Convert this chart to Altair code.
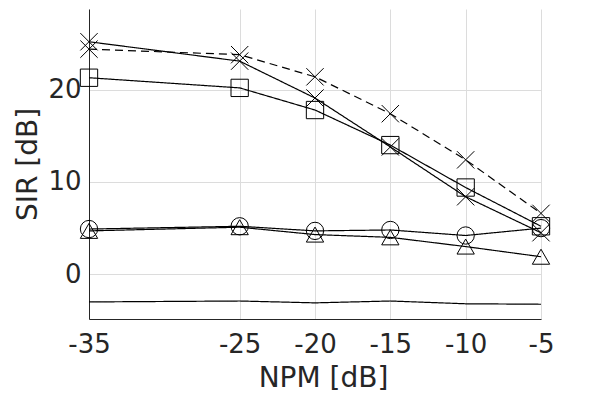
import altair as alt
import pandas as pd

npm = [-35, -25, -20, -15, -10, -5]
x_solid = [25.2, 23.1, 19.1, 13.8, 8.4, 4.5]
x_dashed = [24.4, 23.8, 21.4, 17.4, 12.4, 6.6]
squares = [21.3, 20.2, 17.8, 14.0, 9.4, 5.2]
circles = [4.9, 5.2, 4.7, 4.8, 4.2, 5.0]
triangles = [4.7, 5.1, 4.3, 4.0, 3.0, 1.9]
plain = [-3.0, -2.9, -3.1, -2.9, -3.2, -3.25]

series = {
    "xsolid": x_solid,
    "xdashed": x_dashed,
    "square": squares,
    "circle": circles,
    "triangle": triangles,
    "plain": plain,
}
rows = []
for name, vals in series.items():
    for xv, yv in zip(npm, vals):
        rows.append({"npm": xv, "sir": yv, "series": name})
df = pd.DataFrame(rows)

names = list(series.keys())
dash_range = [[1, 0], [8, 5], [1, 0], [1, 0], [1, 0], [1, 0]]
marker_names = ["xsolid", "xdashed", "square", "circle", "triangle"]
X_PATH = "M-1,-1L1,1M-1,1L1,-1"
shape_range = [X_PATH, X_PATH, "square", "circle", "triangle-up"]
size_range = [300, 300, 240, 340, 520]

xenc = alt.X("npm:Q", scale=alt.Scale(domain=[-35, -5], nice=False, zero=False),
             axis=alt.Axis(values=npm, title="NPM [dB]", titleX=234,
                           labelExpr="datum.value + ''", labelFlush=False))
yenc = alt.Y("sir:Q", scale=alt.Scale(domain=[-4.85, 28.75], nice=False, zero=False),
             axis=alt.Axis(values=[0, 10, 20], title="SIR [dB]",
                           labelExpr="datum.value + ''", labelFlush=False))

lines = alt.Chart(df).mark_line(color="black", strokeWidth=1.2).encode(
    x=xenc, y=yenc,
    detail="series:N",
    strokeDash=alt.StrokeDash("series:N", scale=alt.Scale(domain=names, range=dash_range), legend=None),
)

points = alt.Chart(df).transform_filter(
    alt.FieldOneOfPredicate(field="series", oneOf=marker_names)
).mark_point(filled=False, color="black", strokeWidth=1, opacity=1).encode(
    x=xenc, y=yenc,
    shape=alt.Shape("series:N", scale=alt.Scale(domain=marker_names, range=shape_range), legend=None),
    size=alt.Size("series:N", scale=alt.Scale(domain=marker_names, range=size_range), legend=None),
)

chart = alt.layer(lines, points).properties(
    width=452, height=310,
    autosize=alt.AutoSizeParams(type="none"),
    padding={"left": 81, "top": 1, "right": 51, "bottom": 81},
).configure_view(stroke=None).configure_axis(
    labelFont="DejaVu Sans", titleFont="DejaVu Sans",
    labelFontSize=26, titleFontSize=28, titleFontWeight="normal",
    labelColor="#262626", titleColor="#262626",
    domainColor="#262626", domainWidth=1,
    ticks=False, grid=True, gridColor="#dcdcdc", gridWidth=1,
).configure_axisX(labelPadding=12, titlePadding=7).configure_axisY(labelPadding=8, titlePadding=5)

chart.save("out.html", embed_options={"renderer": "svg", "actions": False})
